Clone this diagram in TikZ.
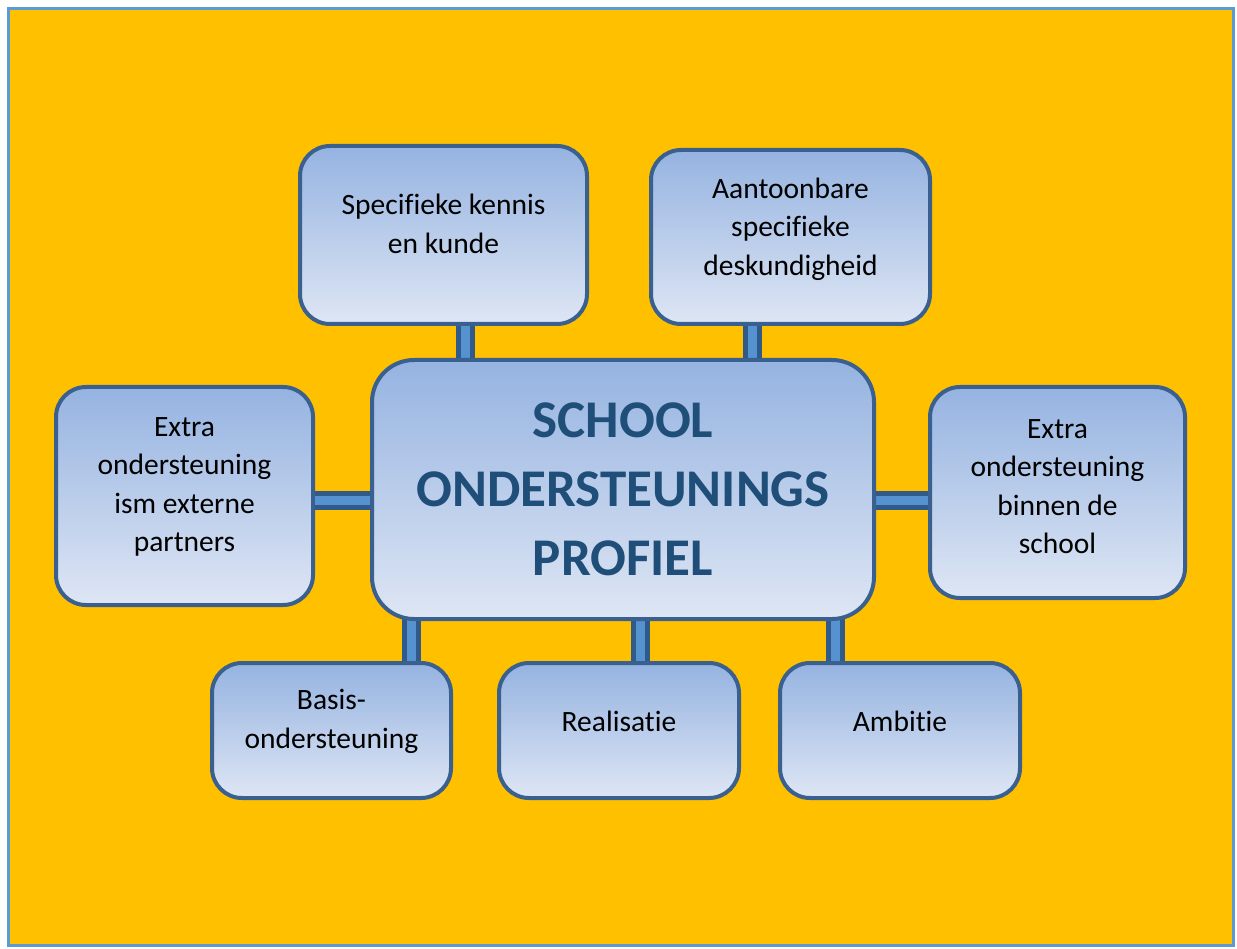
\documentclass[tikz,border=0pt]{standalone}
\usepackage{fontspec}
\setmainfont[Ligatures=NoCommon]{Carlito}
\definecolor{frameblue}{HTML}{5B9BD5}
\definecolor{bgorange}{HTML}{FFC000}
\definecolor{boxedge}{HTML}{3A6090}
\definecolor{boxtop}{HTML}{95B3E1}
\definecolor{boxbot}{HTML}{DEE6F4}
\definecolor{pipedark}{HTML}{2F5A8A}
\definecolor{pipelight}{HTML}{5592CF}
\definecolor{titleblue}{HTML}{1F4E79}
\tikzset{
  box/.style={draw=boxedge, line width=4pt, rounded corners=30pt, top color=boxtop, bottom color=boxbot, inner sep=0pt},
  bigbox/.style={box, rounded corners=42pt, text=titleblue, font=\fontsize{53}{69}\selectfont\bfseries, align=center},
  txt/.style={font=\fontsize{29.5}{38.5}\selectfont, align=center, text=black, inner sep=0pt},
  pipe/.style={draw=pipedark, line width=5pt, double=pipelight, double distance=9pt}
}
\begin{document}
\begin{tikzpicture}[x=1pt,y=-1pt]
\useasboundingbox (0,0) rectangle (1237,949);
\fill[white] (0,0) rectangle (1237,949);
\draw[frameblue, line width=3.5pt, fill=bgorange] (8.5,8.5) rectangle (1233.5,945.5);
% boxes
\node[box, minimum width=287pt, minimum height=178pt] (tl) at (443.5,235) {};
\node[box, minimum width=279pt, minimum height=174pt] (tr) at (790.5,237) {};
\node[box, minimum width=257pt, minimum height=218pt] (lf) at (184.5,496) {};
\node[box, minimum width=255pt, minimum height=211pt] (rt) at (1057.5,492.5) {};
\node[box, minimum width=239pt, minimum height=135pt] (bl) at (331.5,730.5) {};
\node[box, minimum width=240pt, minimum height=135pt] (bm) at (619,730.5) {};
\node[box, minimum width=240pt, minimum height=135pt] (br) at (900,730.5) {};
% pipes (behind centre box)
\draw[pipe] ([xshift=21.5pt]tl.south) -- ([xshift=21.5pt]tl.south |- 0,362) coordinate (ptl);
\draw[pipe] ([xshift=-38.5pt]tr.south) -- ([xshift=-38.5pt]tr.south |- 0,362) coordinate (ptr);
\draw[pipe] (lf.east |- 0,500) -- (374,500) coordinate (plf);
\draw[pipe] (rt.west |- 0,500) -- (872,500) coordinate (prt);
\draw[pipe] ([xshift=79.5pt]bl.north) -- ([xshift=79.5pt]bl.north |- 0,617) coordinate (pbl);
\draw[pipe] ([xshift=21pt]bm.north) -- ([xshift=21pt]bm.north |- 0,617) coordinate (pbm);
\draw[pipe] ([xshift=-65pt]br.north) -- ([xshift=-65pt]br.north |- 0,617) coordinate (pbr);
% centre
\node[bigbox, minimum width=502pt, minimum height=259pt] (c) at (623,489.5) {SCHOOL\\ONDERSTEUNINGS\\PROFIEL};
% texts
\node[txt] (ttl) at ([yshift=11pt]tl.center) {Specifieke kennis\\en kunde};
\node[txt] (ttr) at ([yshift=8pt]tr.center) {Aantoonbare\\specifieke\\deskundigheid};
\node[txt] (tlf) at ([yshift=9pt]lf.center) {Extra\\ondersteuning\\ism externe\\partners};
\node[txt] (trt) at ([yshift=6pt]rt.center) {Extra\\ondersteuning\\binnen de\\school};
\node[txt] (tbl) at ([yshift=9pt]bl.center) {Basis-\\ondersteuning};
\node[txt] (tbm) at ([yshift=9pt]bm.center) {Realisatie};
\node[txt] (tbr) at ([yshift=9pt]br.center) {Ambitie};
\end{tikzpicture}
\end{document}
